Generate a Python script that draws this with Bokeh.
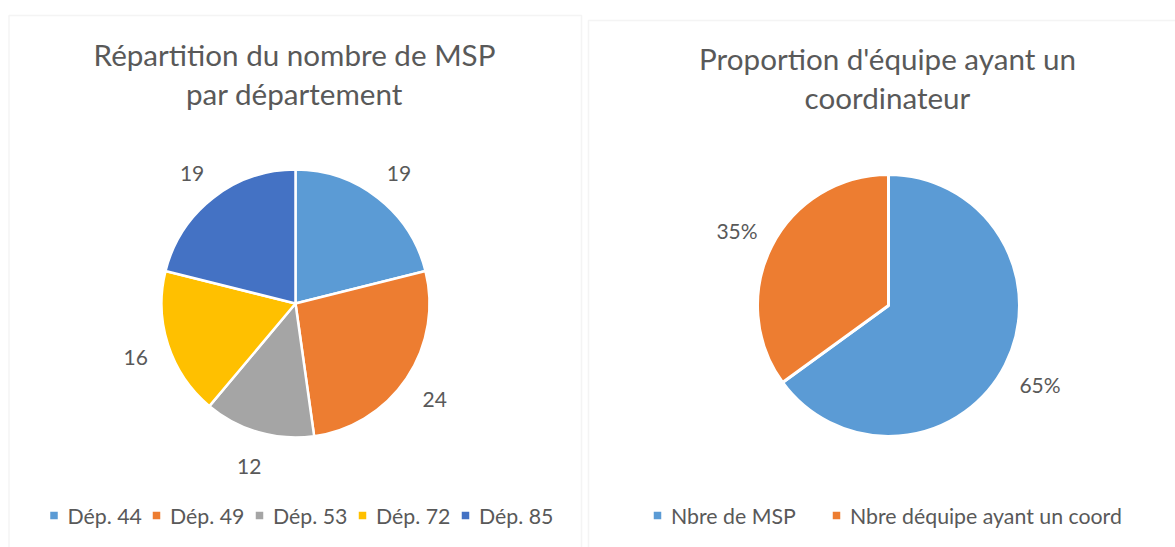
import math
from bokeh.plotting import figure
from bokeh.models import Range1d, BoxAnnotation
from bokeh.core.properties import value
from bokeh.embed import file_html
from bokeh.resources import INLINE

# ---------------- data ----------------
dep_labels = ["Dép. 44", "Dép. 49", "Dép. 53", "Dép. 72", "Dép. 85"]
dep_values = [19, 24, 12, 16, 19]
dep_colors = ["#5B9BD5", "#ED7D31", "#A5A5A5", "#FFC000", "#4472C4"]

coord_labels = ["Nbre de MSP", "Nbre déquipe ayant un coord"]
coord_values = [65, 35]
coord_colors = ["#5B9BD5", "#ED7D31"]

title_left = ["Répartition du nombre de MSP", "par département"]
title_right = ["Proportion d'équipe ayant un", "coordinateur"]

# ---------------- style ----------------
FONT = value("Lato")
TXT = "#595959"
W, H = 1175, 547

p = figure(width=W, height=H, x_range=Range1d(0, W), y_range=Range1d(-H, 0),
           output_backend="svg", toolbar_location=None, min_border=0,
           x_axis_location=None, y_axis_location=None)
p.grid.visible = False
p.outline_line_color = None
p.background_fill_color = "white"

# panel frames
p.add_layout(BoxAnnotation(left=8.5, right=581, top=-15, bottom=-600, fill_alpha=0,
                           line_color="#D9D9D9", line_width=1.5))
p.add_layout(BoxAnnotation(left=588, right=1300, top=-20, bottom=-600, fill_alpha=0,
                           line_color="#D9D9D9", line_width=1.5))


def pie(cx, cy, r, vals, colors, labels_txt, lab_r, lw):
    total = float(sum(vals))
    cum = 0.0
    starts, ends, lx, ly = [], [], [], []
    for v in vals:
        a0 = cum / total * 2 * math.pi
        a1 = (cum + v) / total * 2 * math.pi
        starts.append(math.pi / 2 - a0)
        ends.append(math.pi / 2 - a1)
        mid = (a0 + a1) / 2
        lx.append(cx + lab_r * math.sin(mid))
        ly.append(-cy + lab_r * math.cos(mid) - 2)
        cum += v
    p.wedge(x=[cx] * len(vals), y=[-cy] * len(vals), radius=r, radius_units="screen",
            start_angle=starts, end_angle=ends, direction="clock",
            fill_color=colors, line_color="white", line_width=lw)
    p.text(x=lx, y=ly, text=labels_txt, text_font=FONT, text_font_size="21px",
           text_color=TXT, text_align="center", text_baseline="middle")


pie(295, 303, 134, dep_values, dep_colors, [str(v) for v in dep_values], 168, 2.5)
tot = sum(coord_values)
pie(888, 305, 131, coord_values, coord_colors,
    ["%d%%" % round(100 * v / tot) for v in coord_values], 170, 3)

# titles
p.text(x=[294, 294], y=[-54, -93], text=title_left, text_font=FONT, text_font_size="29.6px",
       text_color=TXT, text_align="center", text_baseline="middle")
p.text(x=[887, 887], y=[-58, -97], text=title_right, text_font=FONT, text_font_size="29.6px",
       text_color=TXT, text_align="center", text_baseline="middle")

# legends
left_leg_x = [53.5, 156, 259, 362, 465]
p.rect(x=left_leg_x, y=[-515] * 5, width=7.5, height=7.5, width_units="screen",
       height_units="screen", fill_color=dep_colors, line_color=None)
p.text(x=[x + 13.5 for x in left_leg_x], y=[-515] * 5, text=dep_labels, text_font=FONT,
       text_font_size="21.3px", text_color=TXT, text_align="left", text_baseline="middle")

right_leg_x = [657, 836]
p.rect(x=right_leg_x, y=[-515] * 2, width=7.5, height=7.5, width_units="screen",
       height_units="screen", fill_color=coord_colors, line_color=None)
p.text(x=[x + 13.5 for x in right_leg_x], y=[-515] * 2, text=coord_labels, text_font=FONT,
       text_font_size="21.3px", text_color=TXT, text_align="left", text_baseline="middle")

open("out.html", "w").write(file_html(p, INLINE))
